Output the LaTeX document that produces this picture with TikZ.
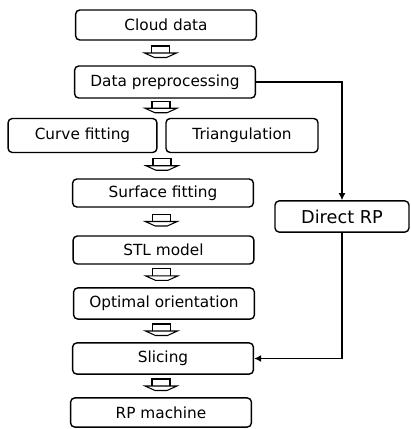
\documentclass[tikz,border=0pt]{standalone}
\usepackage{fontspec}
\setmainfont{DejaVu Sans}
\usetikzlibrary{arrows.meta}
\usetikzlibrary{calc}

\tikzset{
  stepbox/.style={draw, line width=1pt, rounded corners=3pt, inner sep=0pt,
    minimum width=4.52cm, minimum height=0.75cm, font=\fontsize{10.9}{12}\selectfont},
  flowline/.style={line width=1pt, -{Latex[length=5pt,width=5pt]}},
  hollow/.pic={
    \draw[line width=0.75pt] (-9,7) -- (-9,0) -- (9,0) -- (9,7);
    \draw[line width=0.75pt] (-16,7) -- (16,7) -- (6,11.5) -- (-6,11.5) -- cycle;
  }
}

\begin{document}
\begin{tikzpicture}[x=0.025cm,y=-0.025cm,>=Latex]
				\useasboundingbox (0,0) rectangle (410,429);
				
				% main column
				\node[stepbox] (cloud) at (166,25) {Cloud data};
				\node[stepbox, minimum height=0.8cm] (prep) at (165,82) {Data preprocessing};
				\node[stepbox, minimum width=3.72cm, minimum height=0.85cm] (curve) at (82.5,135.5) {Curve fitting};
				\node[stepbox, minimum width=3.8cm, minimum height=0.85cm] (tri) at (242,135.5) {Triangulation};
				\node[stepbox, minimum height=0.7cm] (surface) at (163,193) {Surface fitting};
				\node[stepbox, minimum height=0.7cm] (stl) at (163.5,250) {STL model};
				\node[stepbox, minimum height=0.78cm] (orient) at (164,303.5) {Optimal orientation};
				\node[stepbox, minimum height=0.78cm] (slicing) at (163,358.5) {Slicing};
				\node[stepbox, minimum height=0.73cm] (machine) at (161,412.5) {RP machine};
				
				% side branch
				\node[stepbox, minimum width=3.35cm, minimum height=0.78cm, font=\fontsize{12.6}{14}\selectfont] (direct) at (342,216.5) {Direct RP};
				
				% hollow arrows
				\pic at ($(cloud.south)!0.5!(prep.north)+(-5,-7)$) {hollow};
				\pic at ($(prep.south)!0.5!(tri.north -| prep.south)+(-4,-7)$) {hollow};
				\pic at ($(tri.south -| surface.north)!0.5!(surface.north)+(-1,-7)$) {hollow};
				\pic at ($(surface.south)!0.5!(stl.north)+(-2,-7)$) {hollow};
				\pic at ($(stl.south)!0.5!(orient.north)+(-2,-7)$) {hollow};
				\pic at ($(orient.south)!0.5!(slicing.north)+(-2,-7)$) {hollow};
				\pic at ($(slicing.south)!0.5!(machine.north)+(-1,-7)$) {hollow};
				
				% direct route
				\draw[flowline] (prep.east) -| (direct.north);
				\draw[flowline] (direct.south) |- (slicing.east);
			\end{tikzpicture}
\end{document}
